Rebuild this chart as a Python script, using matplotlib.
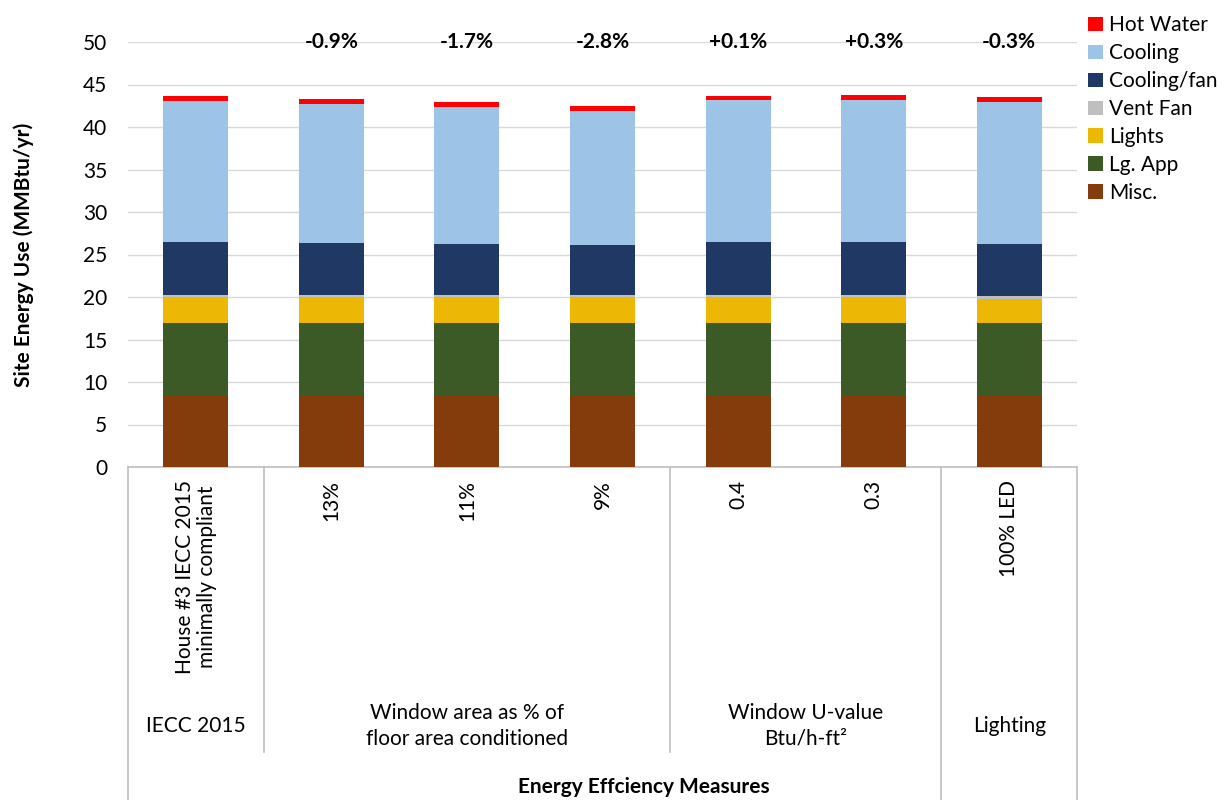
import matplotlib
matplotlib.use("Agg")
import matplotlib.pyplot as plt
from matplotlib.patches import Patch
import matplotlib.transforms as mtransforms

plt.rcParams['font.family'] = ['Lato', 'DejaVu Sans']

categories = ["House #3 IECC 2015\nminimally compliant", "13%", "11%", "9%", "0.4", "0.3", "100% LED"]
groups = ["IECC 2015", "Window area as % of\nfloor area conditioned", "Window U-value\nBtu/h-ft\u00b2", "Lighting"]
group_spans = [(0, 0), (1, 3), (4, 5), (6, 6)]
pct_labels = ["", "-0.9%", "-1.7%", "-2.8%", "+0.1%", "+0.3%", "-0.3%"]

misc = [8.3, 8.3, 8.3, 8.3, 8.3, 8.3, 8.3]
lg_app = [8.7, 8.7, 8.7, 8.7, 8.7, 8.7, 8.7]
lights = [3.0, 3.0, 3.0, 3.0, 3.0, 3.0, 2.75]
vent_fan = [0.25, 0.25, 0.25, 0.25, 0.25, 0.25, 0.4]
cooling_fan = [6.2, 6.05, 6.0, 5.9, 6.2, 6.2, 6.1]
cooling = [16.65, 16.41, 16.1, 15.73, 16.69, 16.78, 16.72]
hot_water = [0.55, 0.55, 0.55, 0.55, 0.55, 0.55, 0.55]

series = [
    ("Misc.", misc, "#843C0C"),
    ("Lg. App", lg_app, "#3B5A25"),
    ("Lights", lights, "#EDB705"),
    ("Vent Fan", vent_fan, "#BFBFBF"),
    ("Cooling/fan", cooling_fan, "#203864"),
    ("Cooling", cooling, "#9DC3E6"),
    ("Hot Water", hot_water, "#FF0000"),
]

FS = 15

fig = plt.figure(figsize=(12.31, 8.0), dpi=100)
ax = fig.add_axes([128/1231, 1-467/800, (1077-128)/1231, 425/800])

x = list(range(len(categories)))
bottom = [0.0]*len(x)
for name, vals, col in series:
    ax.bar(x, vals, 0.48, bottom=bottom, color=col, label=name, zorder=3)
    bottom = [b+v for b, v in zip(bottom, vals)]

ax.set_xlim(-0.5, 6.5)
ax.set_ylim(0, 50)
ax.set_yticks(range(0, 51, 5))
ax.yaxis.grid(True, color="#D9D9D9", linewidth=1, zorder=0)
ax.tick_params(axis='y', length=0, labelsize=FS, pad=15, colors="#000000")
ax.set_xticks([])
for s in ["top", "right", "left"]:
    ax.spines[s].set_visible(False)
ax.spines["bottom"].set_color("#BFBFBF")
ax.spines["bottom"].set_linewidth(1.2)

ax.set_ylabel("Site Energy Use (MMBtu/yr)", fontsize=FS, fontweight="bold")
ax.yaxis.set_label_coords(-94/949, 0.5)

trans = mtransforms.blended_transform_factory(ax.transData, ax.transAxes)
px = 1/425.0

for i, lab in enumerate(pct_labels):
    if lab:
        ax.text(i, 1.0, lab, ha="center", va="center", fontsize=FS, fontweight="bold", transform=trans)

for i, lab in enumerate(categories):
    ax.text(i, -13*px, lab, ha="center", va="top", rotation=90, fontsize=FS,
            transform=trans, multialignment="center", linespacing=1.15)

# separator lines
for xv, yb in [(-0.5, 800), (0.5, 752), (3.5, 752), (5.5, 800), (6.5, 800)]:
    ax.plot([xv, xv], [0, -(yb-467)*px], color="#BFBFBF", lw=1.2, transform=trans, clip_on=False)

for g, (a, b) in zip(groups, group_spans):
    ax.text((a+b)/2, -(726-467)*px, g, ha="center", va="center", fontsize=FS,
            transform=trans, multialignment="center", linespacing=1.35)

fig.text(644/1231, 1-787/800, "Energy Effciency Measures", ha="center", va="center",
         fontsize=FS, fontweight="bold")

handles = [Patch(facecolor=c, edgecolor="none") for _, _, c in series][::-1]
labels = [n for n, _, _ in series][::-1]
fig.legend(handles, labels, loc="upper left", bbox_to_anchor=(1080/1231, 1-7/800),
           frameon=False, fontsize=FS, handlelength=0.7, handleheight=0.7,
           handletextpad=0.3, labelspacing=0.38, borderaxespad=0)

fig.savefig("out.png", dpi=100)
